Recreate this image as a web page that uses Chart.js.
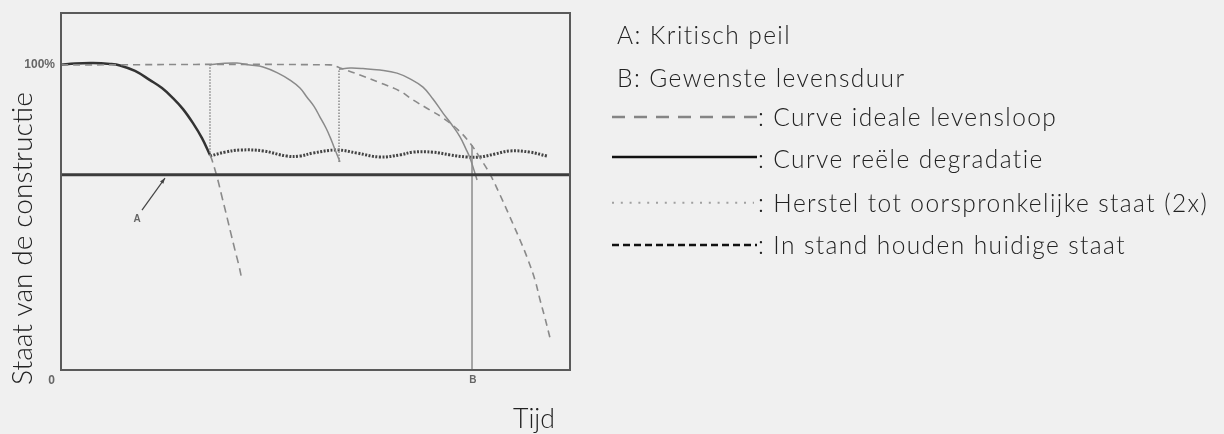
<!DOCTYPE html>
<html>
<head>
<meta charset="utf-8">
<script src="https://cdn.jsdelivr.net/npm/chart.js@4.4.1/dist/chart.umd.min.js"></script>
<style>
  html, body { margin: 0; padding: 0; background: #f0f0f0; }
  #wrap { width: 1224px; height: 434px; }
</style>
</head>
<body>
<div id="wrap"><canvas id="c" width="1224" height="434"></canvas></div>
<script>
// ---- data (time units 0..100, condition in % 0..117) ----
const critical = [[0, 64], [100, 64]];
const realDegradation = [[0, 100], [2.75, 100.45], [6.29, 100.6], [9.63, 100.3], [11.59, 99.8], [14.54, 98.0], [17.49, 95.0], [19.84, 92.4], [22.0, 89.1], [23.97, 85.5], [25.93, 80.9], [27.7, 76.0], [29.27, 70.5]];
const degradationContinued = [[29.27, 70.5], [29.67, 68.8], [30.65, 63.3], [31.63, 56.7], [32.61, 50.1], [33.4, 44.6], [34.18, 39.3], [34.97, 34.1], [35.56, 29.5]];
const idealCurve = [[0, 100], [52.85, 100], [54.81, 99.0], [58.74, 96.7], [62.67, 94.1], [66.6, 91.4], [69.16, 88.5], [72.5, 85.2], [75.05, 82.6], [78.0, 78.7], [80.35, 74.4], [82.32, 69.5], [84.28, 64.2], [86.25, 57.4], [88.21, 50.1], [90.18, 42.6], [91.55, 37.0], [93.12, 29.5], [94.11, 23.0], [95.09, 17.0], [96.07, 10.5]];
const repairJump1 = [[29.27, 70.2], [29.27, 100]];
const repairCurve1 = [[29.27, 100], [31.63, 100.45], [34.58, 100.6], [37.13, 99.96], [39.69, 99.3], [42.63, 97.3], [44.99, 95.0], [46.95, 92.4], [48.33, 89.4], [49.71, 86.4], [50.88, 82.9], [52.06, 79.3], [52.85, 76.4], [53.63, 73.1], [54.42, 69.8], [54.81, 68.2]];
const repairJump2 = [[54.62, 68.2], [54.62, 98.6]];
const repairCurve2 = [[54.62, 98.6], [56.78, 98.95], [59.33, 98.8], [62.67, 98.3], [66.01, 97.3], [68.57, 95.4], [71.12, 92.7], [73.08, 88.8], [75.05, 84.2], [76.82, 80.3], [78.39, 76.4], [79.57, 72.4], [80.35, 69.5], [81.14, 65.5], [81.73, 62.3]];
const maintenance = [[29.27, 70.1], [32.22, 71.4], [35.17, 72.1], [39.69, 71.8], [44.4, 70.1], [46.95, 70.1], [49.51, 71.1], [54.22, 72.1], [58.15, 71.1], [62.67, 69.8], [66.6, 70.5], [69.16, 71.4], [73.08, 71.4], [76.42, 70.5], [79.76, 69.8], [82.32, 69.8], [85.27, 70.8], [88.21, 71.8], [92.14, 71.4], [95.48, 70.1]];
const desiredLife = [[80.75, 0], [80.75, 73.7]];
const arrowA = [[15.91, 52.4], [20.43, 62.9]];
const labelA = [14.93, 49.3];
const labelB = [80.9, -3.4];
const yTickLabels = [[100, '100%'], [0, '0']];
const axisTitleY = 'Staat van de constructie';
const axisTitleX = 'Tijd';
const legendLines = [
  { sample: 'none', text: 'A: Kritisch peil' },
  { sample: 'none', text: 'B: Gewenste levensduur' },
  { sample: 'ideal', text: ': Curve ideale levensloop' },
  { sample: 'real', text: ': Curve reële degradatie' },
  { sample: 'repair', text: ': Herstel tot oorspronkelijke staat (2x)' },
  { sample: 'maint', text: ': In stand houden huidige staat' }
];

const pts = a => a.map(p => ({ x: p[0], y: p[1] }));
function ds(data, color, width, dash, tension) {
  return {
    data: pts(data), borderColor: color, borderWidth: width, borderDash: dash || [],
    pointRadius: 0, fill: false, tension: tension || 0, borderCapStyle: 'butt'
  };
}

const FONT = '"Lato", "Open Sans", sans-serif';
function fitSize(ctx, text, weight, target) {
  ctx.font = weight + ' 100px ' + FONT;
  return 100 * target / ctx.measureText(text).width;
}

const decorPlugin = {
  id: 'decor',
  beforeDraw(chart) {
    const ctx = chart.ctx;
    ctx.save();
    ctx.fillStyle = '#f0f0f0';
    ctx.fillRect(0, 0, chart.width, chart.height);
    ctx.restore();
  },
  afterDraw(chart) {
    const ctx = chart.ctx, a = chart.chartArea;
    const xs = chart.scales.x, ys = chart.scales.y;
    ctx.save();
    // frame
    ctx.strokeStyle = '#5a5a5a';
    ctx.lineWidth = 2;
    ctx.strokeRect(a.left, a.top, a.right - a.left, a.bottom - a.top);
    // arrowhead for A
    const p0 = { x: xs.getPixelForValue(arrowA[0][0]), y: ys.getPixelForValue(arrowA[0][1]) };
    const p1 = { x: xs.getPixelForValue(arrowA[1][0]), y: ys.getPixelForValue(arrowA[1][1]) };
    const ang = Math.atan2(p1.y - p0.y, p1.x - p0.x);
    ctx.fillStyle = '#444';
    ctx.beginPath();
    ctx.moveTo(p1.x, p1.y);
    ctx.lineTo(p1.x - 6 * Math.cos(ang - 0.35), p1.y - 6 * Math.sin(ang - 0.35));
    ctx.lineTo(p1.x - 6 * Math.cos(ang + 0.35), p1.y - 6 * Math.sin(ang + 0.35));
    ctx.closePath();
    ctx.fill();
    // small labels
    ctx.fillStyle = '#666';
    ctx.font = 'bold 10px "Liberation Sans", Arial, sans-serif';
    ctx.textAlign = 'center';
    ctx.textBaseline = 'middle';
    ctx.fillText('A', xs.getPixelForValue(labelA[0]), ys.getPixelForValue(labelA[1]));
    ctx.fillText('B', xs.getPixelForValue(labelB[0]), ys.getPixelForValue(labelB[1]));
    ctx.font = 'bold 12px "Liberation Sans", Arial, sans-serif';
    ctx.textAlign = 'right';
    yTickLabels.forEach(t => {
      const yy = ys.getPixelForValue(t[0]) + (t[0] === 0 ? 11 : 0);
      ctx.fillText(t[1], a.left - (t[0] === 0 ? 6 : 6), yy);
    });
    // axis titles
    ctx.fillStyle = '#222';
    ctx.textAlign = 'center';
    ctx.textBaseline = 'alphabetic';
    const tSize = fitSize(ctx, axisTitleX, 300, 42);
    ctx.font = '300 ' + tSize.toFixed(1) + 'px ' + FONT;
    ctx.fillText(axisTitleX, 534, 428);
    const ySize = fitSize(ctx, axisTitleY, 300, 293);
    ctx.font = '300 ' + ySize.toFixed(1) + 'px ' + FONT;
    ctx.save();
    ctx.translate(32, 238.5);
    ctx.rotate(-Math.PI / 2);
    ctx.fillText(axisTitleY, 0, 0);
    ctx.restore();
    // legend
    const lSize = 24.5;
    ctx.font = '300 ' + lSize + 'px ' + FONT;
    const ref = legendLines[4].text;
    const wRef = ctx.measureText(ref).width;
    const spacing = Math.max(0, (450 - wRef) / ref.length);
    if ('letterSpacing' in ctx) ctx.letterSpacing = spacing.toFixed(2) + 'px';
    ctx.textAlign = 'left';
    ctx.textBaseline = 'alphabetic';
    const baselines = [44.3, 87.3, 126, 168, 211.7, 254];
    const sampleY = [0, 0, 117, 157, 202.7, 245];
    const sx0 = 612, sx1 = 757, tx1 = 758;
    legendLines.forEach((l, i) => {
      let tx = 617;
      const y = sampleY[i];
      ctx.save();
      ctx.lineCap = 'butt';
      if (l.sample === 'ideal') {
        ctx.strokeStyle = '#858585'; ctx.lineWidth = 2.5; ctx.setLineDash([13, 9]);
        ctx.beginPath(); ctx.moveTo(sx0, y); ctx.lineTo(sx1, y); ctx.stroke();
        tx = tx1;
      } else if (l.sample === 'real') {
        ctx.strokeStyle = '#111'; ctx.lineWidth = 2.7;
        ctx.beginPath(); ctx.moveTo(sx0, y); ctx.lineTo(sx1, y); ctx.stroke();
        tx = tx1;
      } else if (l.sample === 'repair') {
        ctx.strokeStyle = '#a0a0a0'; ctx.lineWidth = 2; ctx.setLineDash([2, 6.8]);
        ctx.beginPath(); ctx.moveTo(sx0, y); ctx.lineTo(754, y); ctx.stroke();
        tx = tx1;
      } else if (l.sample === 'maint') {
        ctx.strokeStyle = '#111'; ctx.lineWidth = 2.3; ctx.setLineDash([7, 4]);
        ctx.beginPath(); ctx.moveTo(sx0, y); ctx.lineTo(sx1, y); ctx.stroke();
        tx = tx1;
      }
      ctx.restore();
      ctx.fillStyle = '#222';
      ctx.fillText(l.text, tx, baselines[i]);
    });
    ctx.restore();
  }
};

new Chart(document.getElementById('c'), {
  type: 'line',
  data: {
    datasets: [
      ds(critical, '#3c3c3c', 3),
      ds(idealCurve, '#8a8a8a', 1.6, [7, 5], 0.4),
      ds(degradationContinued, '#8a8a8a', 1.6, [8, 5], 0.4),
      ds(repairCurve1, '#8a8a8a', 1.5, [], 0.4),
      ds(repairCurve2, '#8a8a8a', 1.5, [], 0.4),
      ds(repairJump1, '#8a8a8a', 1.5, [1.5, 1.5]),
      ds(repairJump2, '#8a8a8a', 1.5, [1.5, 1.5]),
      ds(desiredLife, '#8c8c8c', 1.5),
      ds(realDegradation, '#333333', 2.5, [], 0.4),
      ds(maintenance, '#444444', 3, [2, 1.5], 0.4),
      ds(arrowA, '#444444', 1.2)
    ]
  },
  options: {
    responsive: false,
    animation: false,
    devicePixelRatio: 1,
    layout: { padding: { left: 61, right: 654, top: 13, bottom: 64 } },
    plugins: { legend: { display: false }, tooltip: { enabled: false } },
    scales: {
      x: { type: 'linear', min: 0, max: 100, display: false },
      y: { type: 'linear', min: 0, max: 117, display: false }
    }
  },
  plugins: [decorPlugin]
});
</script>
</body>
</html>
